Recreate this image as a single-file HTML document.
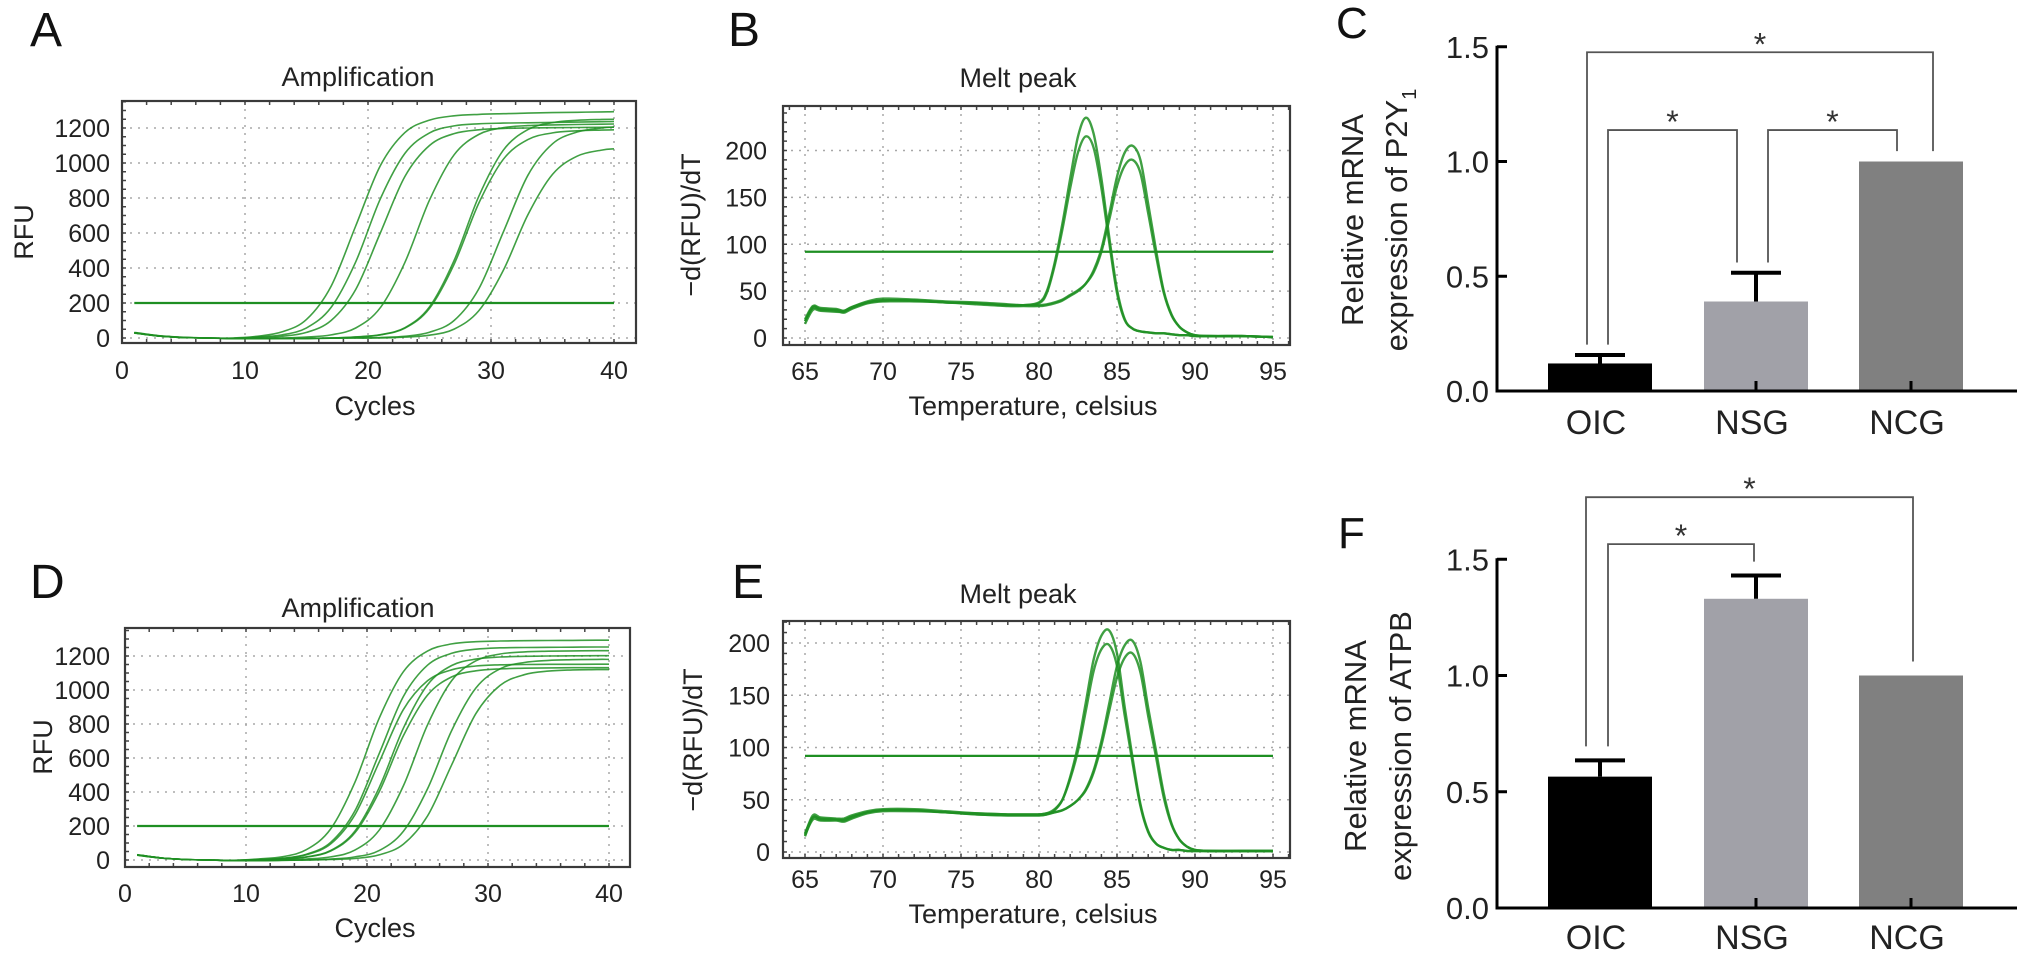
<!DOCTYPE html>
<html><head><meta charset="utf-8"><style>
html,body{margin:0;padding:0;background:#fff;}
svg{display:block;font-family:"Liberation Sans",Arial,sans-serif;}
</style></head><body>
<svg id="fig" width="2032" height="961" viewBox="0 0 2032 961" xmlns="http://www.w3.org/2000/svg"></svg>
<script>
// ---------- data ----------
const ampCycles=[1,3,5,7,9,11,13,15,17,19,21,23,25,27,29,31,33,35,37,39,40];
const ampA1=[30,12,3,0,0,10,35,106,296,640,984,1174,1245,1270,1278,1282,1285,1288,1290,1292,1293];
const ampA2=[28,11,3,0,-2,6,18,58,175,435,795,1055,1172,1212,1224,1228,1230,1232,1234,1236,1237];
const ampA3=[32,13,4,0,-2,3,10,32,100,277,600,923,1100,1168,1190,1198,1200,1202,1203,1204,1205];
const ampA4=[30,12,3,0,-3,-2,0,5,18,57,173,432,788,1047,1163,1202,1214,1218,1220,1222,1223];
const ampA5=[30,12,3,0,-3,-4,-3,-2,0,6,19,59,178,443,808,1073,1191,1231,1244,1249,1250];
const ampA6=[29,11,3,0,-3,-4,-3,-2,0,5,18,56,169,421,769,1021,1134,1172,1184,1188,1190];
const ampA7=[30,12,3,0,-3,-4,-3,-2,-1,0,3,10,33,100,280,605,930,1110,1177,1200,1205];
const ampA8=[30,12,3,0,-3,-4,-3,-2,-1,0,0,5,16,51,155,386,704,935,1039,1074,1081];
const ampD1=[30,12,3,0,-2,6,19,61,183,457,833,1107,1229,1271,1284,1288,1290,1291,1292,1293,1293];
const ampD2=[28,11,3,0,-2,3,10,34,104,289,625,961,1146,1216,1240,1248,1250,1251,1252,1253,1253];
const ampD3=[31,12,3,0,-2,3,9,31,95,266,575,884,1054,1119,1141,1148,1150,1151,1151,1152,1152];
const ampD4=[30,12,3,0,-3,-2,5,18,56,170,425,775,1030,1144,1182,1194,1198,1200,1201,1202,1202];
const ampD5=[29,11,3,0,-3,-2,5,17,53,160,400,730,970,1077,1113,1124,1128,1130,1131,1131,1131];
const ampD6=[30,12,3,0,-3,-2,0,6,18,58,175,435,795,1055,1172,1212,1224,1228,1230,1231,1231];
const ampD7=[30,12,3,0,-3,-4,-2,0,5,18,55,168,418,762,1012,1125,1162,1174,1178,1180,1180];
const ampD8=[30,12,3,0,-3,-4,-2,0,3,9,30,93,259,560,861,1027,1090,1111,1118,1120,1120];
const ampThreshold=200;
const ampXTicks=[0,10,20,30,40];
const ampYTicks=[0,200,400,600,800,1000,1200];

const meltTemps=[65,65.5,66,67,67.5,68,69,70,72,74,76,78,79,80,80.5,81,81.5,82,82.5,83,83.5,84,84.5,85,85.5,86,86.5,87,87.5,88,88.5,89,89.5,90,91,93,95];
const meltB1=[15,30,29,28,28,32,38,40,40,38,37,35,35,38,50,80,122,170,215,235,218,170,108,52,20,10,7,6,5,5,4,3,3,2,2,2,1];
const meltB2=[18,33,31,30,29,33,39,42,41,39,38,36,35,37,48,77,116,160,198,215,203,160,102,48,19,10,7,6,5,5,4,3,3,2,2,2,1];
const meltB3=[18,32,30,29,27,31,37,39,39,38,36,34,34,34,35,37,40,45,50,58,72,95,132,172,198,205,190,143,94,50,25,12,6,3,2,2,1];
const meltB4=[20,34,32,31,29,33,38,40,40,38,37,35,35,35,36,38,41,46,51,58,70,92,126,162,184,190,176,133,88,48,24,12,6,3,2,2,1];
const meltE1=[15,33,31,31,31,34,38,40,40,38,36,35,35,35,36,40,50,72,102,143,184,207,212,190,138,90,46,20,8,4,2,2,1,1,1,1,1];
const meltE2=[17,35,33,32,32,35,39,41,41,39,37,36,36,36,37,41,50,70,97,135,173,194,198,178,130,85,44,19,8,4,2,2,1,1,1,1,1];
const meltE3=[16,31,30,30,29,32,37,39,39,38,36,35,35,35,36,38,40,44,50,60,78,106,142,178,198,202,182,138,97,56,27,12,5,2,1,1,1];
const meltE4=[18,33,32,31,30,33,38,40,40,38,37,36,36,36,37,38,40,44,50,59,76,102,135,167,186,190,172,130,91,52,26,12,5,2,1,1,1];
const meltThreshold=92;
const meltXTicks=[65,70,75,80,85,90,95];
const meltYTicksB=[0,50,100,150,200];
const meltYTicksE=[0,50,100,150,200];

const barCategories=['OIC','NSG','NCG'];
const p2y1Values=[0.12,0.39,1.0];
const p2y1Errors=[0.037,0.125,0];
const atpbValues=[0.565,1.33,1.0];
const atpbErrors=[0.07,0.1,0];
const barYTicks=[0.0,0.5,1.0,1.5];
const barYTickLabels=['0.0','0.5','1.0','1.5'];
const p2y1Sig=[[0,2,1.476],[0,1,1.137],[1,2,1.137]];
const atpbSig=[[0,1,1.565],[0,2,1.767]];

// ---------- helpers ----------
const NS='http://www.w3.org/2000/svg';
const svg=document.getElementById('fig');
function mk(tag,attrs,parent){const e=document.createElementNS(NS,tag);for(const k in attrs)e.setAttribute(k,attrs[k]);(parent||svg).appendChild(e);return e;}
function txt(s,attrs,parent){const t=mk('text',attrs,parent);t.textContent=s;return t;}
function smoothPath(pts){
  let d='M'+pts[0][0].toFixed(1)+','+pts[0][1].toFixed(1);
  for(let i=0;i<pts.length-1;i++){
    const p0=pts[Math.max(0,i-1)],p1=pts[i],p2=pts[i+1],p3=pts[Math.min(pts.length-1,i+2)];
    const c1x=p1[0]+(p2[0]-p0[0])/6,c1y=p1[1]+(p2[1]-p0[1])/6;
    const c2x=p2[0]-(p3[0]-p1[0])/6,c2y=p2[1]-(p3[1]-p1[1])/6;
    d+='C'+c1x.toFixed(1)+','+c1y.toFixed(1)+' '+c2x.toFixed(1)+','+c2y.toFixed(1)+' '+p2[0].toFixed(1)+','+p2[1].toFixed(1);
  }
  return d;
}
const GREEN='#1e8f22';

function qpcrPanel(cfg){
  const g=mk('g',{});
  
  
  const X=cfg.x,Y=cfg.y,b=cfg.box;
  // grid
  cfg.xTicks.forEach(v=>{
    if(X(v)>b[0]+3&&X(v)<b[2]-3){
      const l=mk('line',{x1:X(v),y1:b[1],x2:X(v),y2:b[3],stroke:'#a8a8a8','stroke-width':1.5,'stroke-dasharray':'2,6'},g);
      
      
    }
  });
  cfg.yTicks.forEach(v=>{
    const l=mk('line',{x1:b[0],y1:Y(v),x2:b[2],y2:Y(v),stroke:'#a8a8a8','stroke-width':1.5,'stroke-dasharray':'2,6'},g);
    
    
  });
  // minor ticks
  for(let v=cfg.xMinorStart;v<=cfg.xMinorEnd;v+=cfg.xMinor){
    const px=X(v); if(px<b[0]||px>b[2])continue;
    mk('line',{x1:px,y1:b[3],x2:px,y2:b[3]-4,stroke:'#444','stroke-width':1.5},g);
    mk('line',{x1:px,y1:b[1],x2:px,y2:b[1]+4,stroke:'#444','stroke-width':1.5},g);
  }
  for(let v=0;Y(v)>=b[1];v+=cfg.yMinor){
    mk('line',{x1:b[0],y1:Y(v),x2:b[0]+4,y2:Y(v),stroke:'#444','stroke-width':1.5},g);
  }
  // threshold
  const th=mk('line',{x1:X(cfg.thrFrom),y1:Y(cfg.threshold),x2:X(cfg.thrTo),y2:Y(cfg.threshold),stroke:GREEN,'stroke-width':2.2},g);
  
  
  // series
  cfg.series.forEach((s,i)=>{
    const pts=cfg.xs.map((xv,j)=>[X(xv),Y(s[j])]);
    const p=mk('path',{d:smoothPath(pts),fill:'none',stroke:GREEN,'stroke-width':cfg.lw,'stroke-opacity':0.85,'stroke-linejoin':'round'},g);
    
    
  });
  // frame
  const fr=mk('rect',{x:b[0],y:b[1],width:b[2]-b[0],height:b[3]-b[1],fill:'none',stroke:'#3a3a3a','stroke-width':2.2},g);
  
  
  // tick labels
  cfg.xTicks.forEach(v=>{
    const t=txt(String(v),{x:X(v),y:cfg.xLabelY,'text-anchor':'middle','font-size':25,fill:'#222'},g);
    
    
  });
  cfg.yTicks.forEach(v=>{
    const t=txt(String(v),{x:cfg.yLabelX,y:Y(v)+9,'text-anchor':'end','font-size':25,fill:'#222'},g);
    
    
  });
  const ti=txt(cfg.title,{x:cfg.titleX,y:cfg.titleY,'text-anchor':'middle','font-size':27,fill:'#222'},g);
  
  
  const xt=txt(cfg.xTitle,{x:cfg.xTitleX,y:cfg.xTitleY,'text-anchor':'middle','font-size':27,fill:'#222'},g);
  
  
  const yt=txt(cfg.yTitle,{x:0,y:0,'text-anchor':'middle','font-size':27,fill:'#222',transform:'translate('+cfg.yTitleX+','+cfg.yTitleY+') rotate(-90)'},g);
  
  
  const pl=txt(cfg.letter,{x:cfg.letterX,y:cfg.letterY,'font-size':48,fill:'#111'},g);
  
  
}

function barPanel(cfg){
  const g=mk('g',{});
  
  
  const Y=cfg.y, centers=[1600,1756,1911], bw=104, ax=1497;
  const fills=['#000000','#a1a1a8','#808080'];
  cfg.values.forEach((v,i)=>{
    const r=mk('rect',{x:centers[i]-bw/2,y:Y(v),width:bw,height:Y(0)-Y(v),fill:fills[i]},g);
    
    
    if(cfg.errors[i]>0){
      const e=mk('path',{d:'M'+centers[i]+','+Y(v)+'V'+Y(v+cfg.errors[i])+'M'+(centers[i]-25)+','+Y(v+cfg.errors[i])+'H'+(centers[i]+25),stroke:'#000','stroke-width':4,fill:'none'},g);
      
      
    }
    mk('line',{x1:centers[i],y1:Y(0),x2:centers[i],y2:Y(0)-10,stroke:'#000','stroke-width':3},g);
    const t=txt(barCategories[i],{x:centers[i]-4,y:cfg.catY,'text-anchor':'middle','font-size':34,fill:'#222'},g);
    
    
  });
  // axes
  const ya=mk('line',{x1:ax,y1:Y(1.5)-1,x2:ax,y2:Y(0)+1.5,stroke:'#000','stroke-width':3},g);
  
  
  const xa=mk('line',{x1:ax,y1:Y(0),x2:2017,y2:Y(0),stroke:'#000','stroke-width':3},g);
  
  
  barYTicks.forEach((v,i)=>{
    mk('line',{x1:ax,y1:Y(v),x2:ax+10,y2:Y(v),stroke:'#000','stroke-width':3},g);
    const t=txt(barYTickLabels[i],{x:ax-8,y:Y(v)+11,'text-anchor':'end','font-size':31,fill:'#222'},g);
    
    
  });
  // significance brackets
  const legOff={'0-2':[-13,22],'0-1':[8,-19],'1-2':[12,-14]};
  if(cfg.legOff) Object.assign(legOff,cfg.legOff);
  cfg.sig.forEach(s=>{
    const a=s[0],c=s[1],lvl=s[2],off=legOff[a+'-'+c];
    const xl=centers[a]+off[0],xr=centers[c]+off[1];
    const bl=Y(cfg.values[a]+cfg.errors[a]+cfg.gap), br=Y(cfg.values[c]+cfg.errors[c]+cfg.gap);
    const p=mk('path',{d:'M'+xl+','+bl+'V'+Y(lvl)+'H'+xr+'V'+br,fill:'none',stroke:'#555','stroke-width':1.8},g);
    
    
    const st=txt('*',{x:(xl+xr)/2,y:Y(lvl)+3,'text-anchor':'middle','font-size':32,fill:'#333'},g);
    
    
  });
  const t1=txt('Relative mRNA',{x:0,y:0,'text-anchor':'middle','font-size':31,fill:'#222',transform:'translate('+cfg.t1x+','+cfg.tcy+') rotate(-90)'},g);
  
  
  const t2=mk('text',{x:0,y:0,'text-anchor':'middle','font-size':31,fill:'#222',transform:'translate('+cfg.t2x+','+cfg.tcy+') rotate(-90)'},g);
  
  
  const s1=mk('tspan',{},t2); s1.textContent=cfg.gene;
  if(cfg.sub){const s2=mk('tspan',{'font-size':20,dy:9},t2); s2.textContent=cfg.sub;}
  const pl=txt(cfg.letter,{x:cfg.letterX,y:cfg.letterY,'font-size':44,fill:'#111'},g);
  
  
}

// ---------- panels ----------
qpcrPanel({name:'panel-a-amplification',letter:'A',letterX:30,letterY:46,
  x:c=>122+12.3*c,y:v=>338-0.175*v,box:[122,101,636,343],
  xs:ampCycles,series:[ampA1,ampA2,ampA3,ampA4,ampA5,ampA6,ampA7,ampA8],lw:1.6,
  xTicks:ampXTicks,yTicks:ampYTicks,xMinor:2,xMinorStart:0,xMinorEnd:42,yMinor:50,
  threshold:ampThreshold,thrFrom:1,thrTo:40,
  xLabelY:379,yLabelX:110,title:'Amplification',titleX:358,titleY:86,
  xTitle:'Cycles',xTitleX:375,xTitleY:415,yTitle:'RFU',yTitleX:33,yTitleY:232});
qpcrPanel({name:'panel-d-amplification',letter:'D',letterX:30,letterY:598,
  x:c=>125+12.1*c,y:v=>860-0.17*v,box:[125,628,630,867],
  xs:ampCycles,series:[ampD1,ampD2,ampD3,ampD4,ampD5,ampD6,ampD7,ampD8],lw:1.6,
  xTicks:ampXTicks,yTicks:ampYTicks,xMinor:2,xMinorStart:0,xMinorEnd:42,yMinor:50,
  threshold:ampThreshold,thrFrom:1,thrTo:40,
  xLabelY:902,yLabelX:110,title:'Amplification',titleX:358,titleY:617,
  xTitle:'Cycles',xTitleX:375,xTitleY:937,yTitle:'RFU',yTitleX:52,yTitleY:747});
qpcrPanel({name:'panel-b-melt-peak',letter:'B',letterX:728,letterY:46,
  x:t=>805+15.6*(t-65),y:v=>338-0.9375*v,box:[783,106,1290,345],
  xs:meltTemps,series:[meltB1,meltB2,meltB3,meltB4],lw:2.4,
  xTicks:meltXTicks,yTicks:meltYTicksB,xMinor:1,xMinorStart:64,xMinorEnd:96,yMinor:10,
  threshold:meltThreshold,thrFrom:65,thrTo:95,
  xLabelY:380,yLabelX:767,title:'Melt peak',titleX:1018,titleY:87,
  xTitle:'Temperature, celsius',xTitleX:1033,xTitleY:415,yTitle:'\u2212d(RFU)/dT',yTitleX:700,yTitleY:225});
qpcrPanel({name:'panel-e-melt-peak',letter:'E',letterX:732,letterY:598,
  x:t=>805+15.6*(t-65),y:v=>852-1.045*v,box:[783,621,1290,858],
  xs:meltTemps,series:[meltE1,meltE2,meltE3,meltE4],lw:2.4,
  xTicks:meltXTicks,yTicks:meltYTicksE,xMinor:1,xMinorStart:64,xMinorEnd:96,yMinor:10,
  threshold:meltThreshold,thrFrom:65,thrTo:95,
  xLabelY:888,yLabelX:770,title:'Melt peak',titleX:1018,titleY:603,
  xTitle:'Temperature, celsius',xTitleX:1033,xTitleY:923,yTitle:'\u2212d(RFU)/dT',yTitleX:702,yTitleY:740});
barPanel({name:'panel-c-p2y1-bars',letter:'C',letterX:1336,letterY:38,
  y:v=>391-229.5*v,values:p2y1Values,errors:p2y1Errors,sig:p2y1Sig,gap:0.045,
  catY:434,t1x:1363,t2x:1407,tcy:220,gene:'expression of P2Y',sub:'1'});
barPanel({name:'panel-f-atpb-bars',letter:'F',letterX:1338,letterY:548,
  y:v=>908-232.5*v,values:atpbValues,errors:atpbErrors,sig:atpbSig,gap:0.06,
  legOff:{'0-1':[8,-2],'0-2':[-14,2]},
  catY:949,t1x:1366,t2x:1411,tcy:746,gene:'expression of ATPB',sub:''});
</script>
</body></html>
